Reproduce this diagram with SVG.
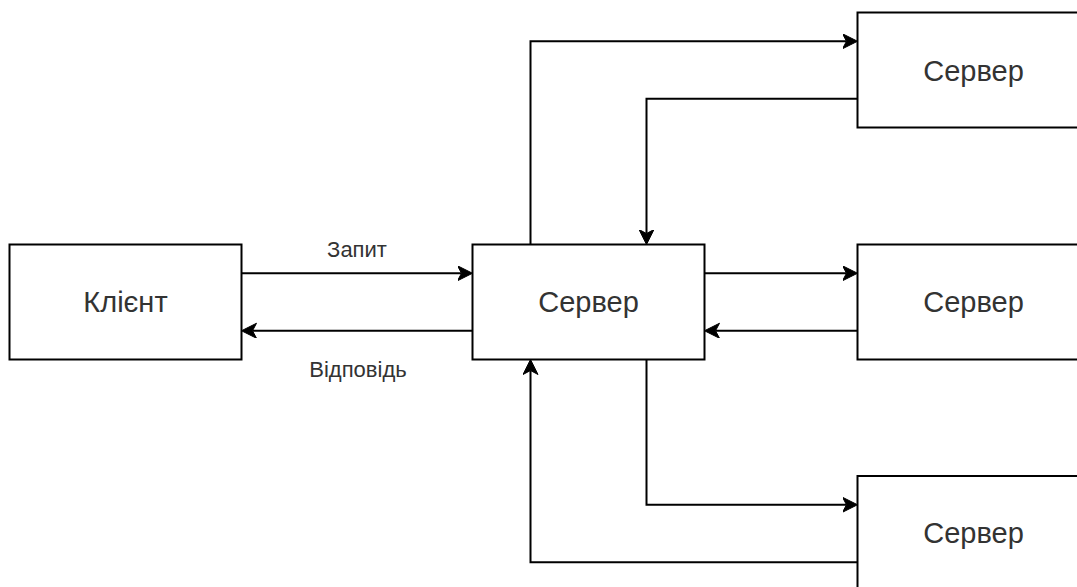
<svg xmlns="http://www.w3.org/2000/svg" width="1077" height="587" viewBox="0 0 1077 587">
<style>
.box{fill:#fff;stroke:#000;stroke-width:2}
.lbl{font-family:"Liberation Sans",Arial,sans-serif;font-size:29px;fill:#333;text-anchor:middle}
.elbl{font-family:"Liberation Sans",Arial,sans-serif;font-size:22px;fill:#333;text-anchor:middle}
.edge{fill:none;stroke:#000;stroke-width:2;marker-end:url(#arr)}
</style>
<defs>
<marker id="arr" markerUnits="userSpaceOnUse" markerWidth="18" markerHeight="18" refX="4" refY="7.5" orient="auto">
<path d="M0,0 L15,7.5 L0,15 L4,7.5 Z" fill="#000" stroke="#000" stroke-width="1"/>
</marker>
</defs>
<rect width="1077" height="587" fill="#fff"/>
<g id="connectors">
<path class="edge" d="M241.5,273.25 H461.5"/>
<path class="edge" d="M472.5,330.75 H252.5"/>
<path class="edge" d="M530.5,244.5 V41.25 H846.5"/>
<path class="edge" d="M857.5,98.75 H646.5 V233.5"/>
<path class="edge" d="M704.5,273.25 H846.5"/>
<path class="edge" d="M857.5,330.75 H715.5"/>
<path class="edge" d="M646.5,359.5 V504.75 H846.5"/>
<path class="edge" d="M857.5,562.25 H530.5 V370.5"/>
<text class="elbl" x="357" y="257">Запит</text>
<text class="elbl" x="358" y="377">Відповідь</text>
</g>
<g id="client">
<rect class="box" x="9.5" y="244.5" width="232" height="115"/>
<text class="lbl" x="125.5" y="312">Клієнт</text>
</g>
<g id="server-main">
<rect class="box" x="472.5" y="244.5" width="232" height="115"/>
<text class="lbl" x="588.5" y="312">Сервер</text>
</g>
<g id="server-top">
<rect class="box" x="857.5" y="12.5" width="232" height="115"/>
<text class="lbl" x="973.5" y="80.5">Сервер</text>
</g>
<g id="server-mid">
<rect class="box" x="857.5" y="244.5" width="232" height="115"/>
<text class="lbl" x="973.5" y="312">Сервер</text>
</g>
<g id="server-bottom">
<rect class="box" x="857.5" y="476" width="232" height="115"/>
<text class="lbl" x="973.5" y="543">Сервер</text>
</g>
</svg>
